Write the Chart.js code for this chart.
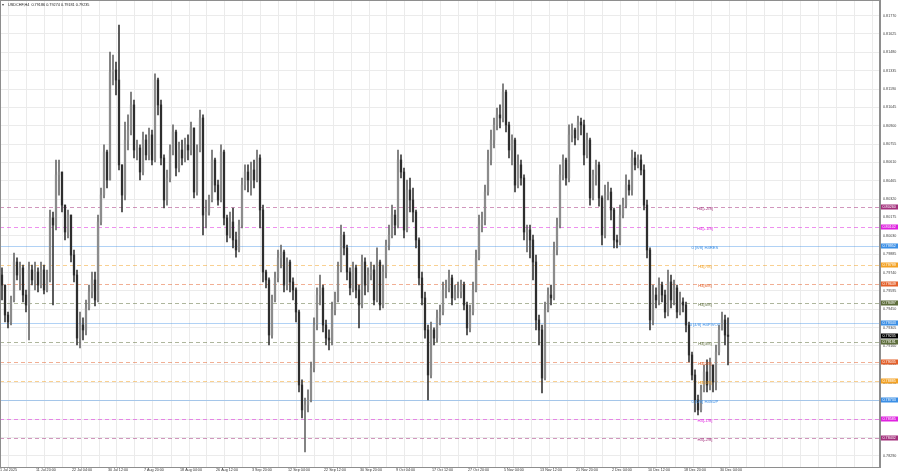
<!DOCTYPE html>
<html><head><meta charset="utf-8">
<script src="https://cdn.jsdelivr.net/npm/chart.js@4.4.1/dist/chart.umd.min.js"></script>
<style>html,body{margin:0;padding:0;background:#fff;overflow:hidden}#wrap{width:900px;height:474px;position:relative}</style>
</head><body><div id="wrap"><canvas id="c" width="900" height="474"></canvas></div>
<script>
// ---------------- DATA ----------------
const titleText = "USDCHF,H4  0.79186 0.79274 0.79181 0.79235";
const timeLabels = ["1 Jul 2025","11 Jul 20:00","22 Jul 04:00","30 Jul 12:00","7 Aug 20:00","18 Aug 04:00","26 Aug 12:00","3 Sep 20:00","12 Sep 04:00","22 Sep 12:00","30 Sep 20:00","9 Oct 04:00","17 Oct 12:00","27 Oct 20:00","5 Nov 04:00","13 Nov 12:00","21 Nov 20:00","2 Dec 04:00","10 Dec 12:00","18 Dec 20:00","30 Dec 04:00"];
const priceTicks = [0.78290,0.78435,0.78580,0.78725,0.78870,0.79015,0.79160,0.79305,0.79450,0.79595,0.79740,0.79885,0.80030,0.80175,0.80320,0.80465,0.80610,0.80755,0.80900,0.81045,0.81190,0.81335,0.81480,0.81625,0.81770];

const closes = [
0.79641,0.79404,0.79349,0.79523,0.79823,0.79720,0.79776,0.79562,0.79483,0.79760,
0.79681,0.79744,0.79641,0.79760,0.79602,0.79681,0.80171,0.80115,0.80511,0.80534,
0.80273,0.80060,0.80194,0.79878,0.79720,0.79222,0.79325,0.79286,0.79460,0.79586,
0.79681,0.79523,0.80139,0.80352,0.80692,0.80471,0.81324,0.81340,0.81261,0.80590,
0.80352,0.80787,0.80866,0.81064,0.80708,0.80724,0.80534,0.80787,0.80669,0.80827,
0.80629,0.81261,0.81064,0.80645,0.80313,0.80487,0.80708,0.80850,0.80566,0.80708,
0.80645,0.80748,0.80708,0.80882,0.80376,0.80708,0.80961,0.80194,0.80218,0.80313,
0.80629,0.80431,0.80313,0.80692,0.80171,0.80036,0.80139,0.79997,0.79918,0.80115,
0.80431,0.80534,0.80471,0.80550,0.80471,0.80645,0.80234,0.79744,0.79681,0.79246,
0.79523,0.79697,0.79855,0.79902,0.79641,0.79823,0.79665,0.79602,0.79428,0.78851,
0.78654,0.78693,0.78733,0.78985,0.79325,0.79562,0.79618,0.79325,0.79222,0.79207,
0.79444,0.79523,0.79760,0.80036,0.79934,0.79744,0.79618,0.79776,0.79602,0.79483,
0.79823,0.79641,0.79720,0.79760,0.79523,0.79823,0.79483,0.79744,0.79957,0.80036,
0.80194,0.80115,0.80629,0.80534,0.80076,0.80392,0.80313,0.80218,0.79997,0.79697,
0.79539,0.79286,0.78930,0.79286,0.79222,0.79381,0.79428,0.79602,0.79618,0.79697,
0.79539,0.79586,0.79586,0.79641,0.79483,0.79302,0.79428,0.79602,0.79855,0.80115,
0.80155,0.80376,0.80629,0.80787,0.80906,0.80985,0.80961,0.81166,0.80906,0.80708,
0.80787,0.80431,0.80590,0.80487,0.80060,0.80076,0.79997,0.79823,0.79365,0.79286,
0.78906,0.79444,0.79562,0.79539,0.79918,0.80115,0.80511,0.80629,0.80487,0.80827,
0.80866,0.80803,0.80929,0.80906,0.80669,0.80787,0.80329,0.80511,0.80590,0.80329,
0.80036,0.80352,0.80376,0.80234,0.79997,0.79981,0.80194,0.80273,0.80431,0.80392,
0.80645,0.80590,0.80629,0.80550,0.80273,0.79918,0.79365,0.79562,0.79523,0.79641,
0.79562,0.79428,0.79665,0.79523,0.79618,0.79428,0.79507,0.79483,0.79325,0.79088,
0.78930,0.78733,0.78654,0.78812,0.78954,0.78851,0.79009,0.78875,0.79112,0.79286,
0.79365,0.79246,0.79235];

const opens = [0.79720,
0.79641,0.79404,0.79349,0.79523,0.79823,0.79720,0.79776,0.79562,0.79483,0.79760,
0.79681,0.79744,0.79641,0.79760,0.79602,0.79681,0.80171,0.80115,0.80511,0.80534,
0.80273,0.80060,0.80194,0.79878,0.79720,0.79222,0.79325,0.79286,0.79460,0.79586,
0.79681,0.79523,0.80139,0.80352,0.80692,0.80471,0.81324,0.81340,0.81261,0.80590,
0.80352,0.80787,0.80866,0.81064,0.80708,0.80724,0.80534,0.80787,0.80669,0.80827,
0.80629,0.81261,0.81064,0.80645,0.80313,0.80487,0.80708,0.80850,0.80566,0.80708,
0.80645,0.80748,0.80708,0.80882,0.80376,0.80708,0.80961,0.80194,0.80218,0.80313,
0.80629,0.80431,0.80313,0.80692,0.80171,0.80036,0.80139,0.79997,0.79918,0.80115,
0.80431,0.80534,0.80471,0.80550,0.80471,0.80645,0.80234,0.79744,0.79681,0.79246,
0.79523,0.79697,0.79855,0.79902,0.79641,0.79823,0.79665,0.79602,0.79428,0.78851,
0.78654,0.78693,0.78733,0.78985,0.79325,0.79562,0.79618,0.79325,0.79222,0.79207,
0.79444,0.79523,0.79760,0.80036,0.79934,0.79744,0.79618,0.79776,0.79602,0.79483,
0.79823,0.79641,0.79720,0.79760,0.79523,0.79823,0.79483,0.79744,0.79957,0.80036,
0.80194,0.80115,0.80629,0.80534,0.80076,0.80392,0.80313,0.80218,0.79997,0.79697,
0.79539,0.79286,0.78930,0.79286,0.79222,0.79381,0.79428,0.79602,0.79618,0.79697,
0.79539,0.79586,0.79586,0.79641,0.79483,0.79302,0.79428,0.79602,0.79855,0.80115,
0.80155,0.80376,0.80629,0.80787,0.80906,0.80985,0.80961,0.81166,0.80906,0.80708,
0.80787,0.80431,0.80590,0.80487,0.80060,0.80076,0.79997,0.79823,0.79365,0.79286,
0.78906,0.79444,0.79562,0.79539,0.79918,0.80115,0.80511,0.80629,0.80487,0.80827,
0.80866,0.80803,0.80929,0.80906,0.80669,0.80787,0.80329,0.80511,0.80590,0.80329,
0.80036,0.80352,0.80376,0.80234,0.79997,0.79981,0.80194,0.80273,0.80431,0.80392,
0.80645,0.80590,0.80629,0.80550,0.80273,0.79918,0.79365,0.79562,0.79523,0.79641,
0.79562,0.79428,0.79665,0.79523,0.79618,0.79428,0.79507,0.79483,0.79325,0.79088,
0.78930,0.78733,0.78654,0.78812,0.78954,0.78851,0.79009,0.78875,0.79112,0.79286,
0.79365,0.79246];

const highs = [
0.79776,0.79602,0.79428,0.79554,0.79894,0.79855,0.79823,0.79799,0.79602,0.79823,
0.79799,0.79823,0.79776,0.79823,0.79799,0.79760,0.80234,0.80218,0.80629,0.80629,
0.80471,0.80273,0.80234,0.80194,0.79918,0.79760,0.79428,0.79381,0.79523,0.79641,
0.79744,0.79744,0.80194,0.80408,0.80748,0.80708,0.81482,0.81459,0.81403,0.81696,
0.80590,0.80929,0.80985,0.81166,0.81103,0.80787,0.80748,0.80850,0.80827,0.80882,
0.80866,0.81309,0.81277,0.81103,0.80669,0.80550,0.80748,0.80906,0.80866,0.80771,
0.80787,0.80803,0.80827,0.80929,0.80882,0.80748,0.81024,0.80985,0.80313,0.80352,
0.80708,0.80645,0.80471,0.80748,0.80708,0.80194,0.80218,0.80250,0.80060,0.80155,
0.80487,0.80590,0.80590,0.80613,0.80629,0.80708,0.80669,0.80273,0.79760,0.79697,
0.79562,0.79744,0.79918,0.79957,0.79918,0.79855,0.79839,0.79697,0.79618,0.79444,
0.78891,0.78748,0.78812,0.79033,0.79381,0.79618,0.79720,0.79641,0.79365,0.79286,
0.79507,0.79586,0.79823,0.80115,0.80060,0.79957,0.79776,0.79823,0.79799,0.79641,
0.79878,0.79855,0.79776,0.79823,0.79799,0.79934,0.79839,0.79799,0.79997,0.80115,
0.80273,0.80234,0.80708,0.80669,0.80566,0.80471,0.80487,0.80408,0.80234,0.80013,
0.79744,0.79586,0.79325,0.79349,0.79302,0.79444,0.79483,0.79665,0.79681,0.79760,
0.79720,0.79641,0.79665,0.79681,0.79665,0.79507,0.79483,0.79665,0.79918,0.80194,
0.80218,0.80431,0.80708,0.80866,0.80961,0.81040,0.81064,0.81230,0.81182,0.80929,
0.80827,0.80803,0.80669,0.80629,0.80511,0.80115,0.80115,0.80036,0.79878,0.79404,
0.79325,0.79507,0.79618,0.79641,0.79981,0.80171,0.80590,0.80669,0.80645,0.80906,
0.80914,0.80882,0.80977,0.80961,0.80945,0.80842,0.80803,0.80550,0.80629,0.80613,
0.80345,0.80431,0.80455,0.80408,0.80250,0.80036,0.80273,0.80329,0.80511,0.80471,
0.80708,0.80692,0.80669,0.80669,0.80590,0.80313,0.79934,0.79641,0.79618,0.79697,
0.79665,0.79602,0.79760,0.79720,0.79681,0.79641,0.79586,0.79539,0.79507,0.79349,
0.79112,0.78970,0.78772,0.78851,0.79009,0.79049,0.79064,0.79009,0.79167,0.79325,
0.79428,0.79404,0.79381];

const lows = [
0.79523,0.79349,0.79302,0.79325,0.79507,0.79681,0.79602,0.79507,0.79428,0.79207,
0.79641,0.79602,0.79586,0.79618,0.79570,0.79586,0.79665,0.79483,0.80076,0.80352,
0.80218,0.79997,0.80013,0.79823,0.79665,0.79167,0.79144,0.79207,0.79246,0.79444,
0.79539,0.79475,0.79507,0.80115,0.80329,0.80408,0.81040,0.81222,0.81143,0.80550,
0.80218,0.80313,0.80708,0.80827,0.80645,0.80629,0.80471,0.80511,0.80629,0.80629,
0.80590,0.80613,0.80985,0.80590,0.80250,0.80273,0.80455,0.80669,0.80503,0.80534,
0.80590,0.80613,0.80629,0.80669,0.80329,0.80352,0.80692,0.80036,0.80092,0.80194,
0.80297,0.80376,0.80273,0.80297,0.80115,0.79981,0.80013,0.79934,0.79862,0.79902,
0.80092,0.80392,0.80376,0.80352,0.80408,0.80455,0.80092,0.79665,0.79618,0.79167,
0.79222,0.79507,0.79665,0.79776,0.79586,0.79602,0.79586,0.79523,0.79349,0.78796,
0.78590,0.78322,0.78638,0.78717,0.78954,0.79286,0.79483,0.79270,0.79167,0.79128,
0.79167,0.79404,0.79507,0.79744,0.79878,0.79681,0.79562,0.79586,0.79539,0.79302,
0.79460,0.79562,0.79586,0.79681,0.79483,0.79507,0.79444,0.79460,0.79697,0.79918,
0.80013,0.80036,0.80092,0.80487,0.80013,0.80060,0.80218,0.80139,0.79934,0.79641,
0.79483,0.79222,0.78733,0.78906,0.79167,0.79191,0.79325,0.79404,0.79539,0.79586,
0.79483,0.79523,0.79539,0.79539,0.79444,0.79246,0.79270,0.79404,0.79586,0.79839,
0.80060,0.80115,0.80352,0.80590,0.80724,0.80866,0.80882,0.80929,0.80850,0.80645,
0.80590,0.80376,0.80408,0.80431,0.79997,0.79902,0.79855,0.79681,0.79286,0.79167,
0.78788,0.78891,0.79428,0.79483,0.79523,0.79878,0.80092,0.80471,0.80431,0.80455,
0.80771,0.80748,0.80787,0.80827,0.80590,0.80645,0.80273,0.80313,0.80431,0.80265,
0.79957,0.80013,0.80313,0.80155,0.79934,0.79934,0.79957,0.80171,0.80250,0.80352,
0.80352,0.80550,0.80566,0.80511,0.80234,0.79855,0.79286,0.79325,0.79460,0.79483,
0.79507,0.79381,0.79397,0.79460,0.79483,0.79381,0.79404,0.79428,0.79270,0.79033,
0.78891,0.78638,0.78614,0.78638,0.78796,0.78796,0.78812,0.78796,0.78812,0.79088,
0.79286,0.79167,0.79009];

const levelNames  = ["H4[+2/8]","H4[+1/8]","0 [8/8] H4RES","H4[7/8]","H4[6/8]","H4[5/8]","0 [4/8] H4PIVOT","H4[3/8]","H4[2/8]","H4[1/8]","0 [0/8] H4SUP","H4[-1/8]","H4[-2/8]"];
const levelValues = [0.80260,0.80102,0.79952,0.79799,0.79649,0.79497,0.79343,0.79191,0.79035,0.78885,0.78733,0.78585,0.78432];
const lastPrice = 0.79235;

// ---------------- STYLE ----------------
const levelStyle = [
  {c:'#a3307c', dash:true},{c:'#df22df', dash:true},{c:'#3b8fe6', dash:false},
  {c:'#f3a224', dash:true},{c:'#e4602a', dash:true},{c:'#5d6d3b', dash:true},
  {c:'#3b8fe6', dash:false},{c:'#5d6d3b', dash:true},{c:'#e4602a', dash:true},
  {c:'#f3a224', dash:true},{c:'#3b8fe6', dash:false},{c:'#df22df', dash:true},{c:'#a3307c', dash:true}
];
const FONT = "'Liberation Sans', Arial, sans-serif";
const PLOT_W = 880, CANDLE_PX = 3, FIRST_PX = 2;
const xMin = -FIRST_PX / CANDLE_PX, xMax = (PLOT_W - FIRST_PX) / CANDLE_PX;

const bull = closes.map((c,i)=> c >= opens[i]);
const wickData = closes.map((c,i)=>({x:i, y:[Math.min(lows[i],opens[i],c), Math.max(highs[i],opens[i],c)]}));
const bodyData = closes.map((c,i)=>({x:i, y:[opens[i], c]}));

const overlay = {
  id:'overlay',
  beforeDatasetsDraw(chart){
    const {ctx, chartArea:a, scales:{y}} = chart;
    ctx.save();
    ctx.lineWidth = 1;
    levelValues.forEach((v,i)=>{
      const py = Math.round(y.getPixelForValue(v)) + 0.5;
      ctx.globalAlpha = levelStyle[i].dash ? 0.5 : 0.4;
      ctx.strokeStyle = levelStyle[i].c;
      ctx.setLineDash(levelStyle[i].dash ? [4,3] : []);
      ctx.beginPath(); ctx.moveTo(a.left, py); ctx.lineTo(a.right, py); ctx.stroke();
    });
    ctx.restore();
  },
  afterDatasetsDraw(chart){
    const {ctx, scales:{y}} = chart;
    ctx.save();
    ctx.font = "4.2px " + FONT;
    ctx.textAlign = 'center'; ctx.textBaseline = 'middle';
    levelValues.forEach((v,i)=>{
      const py = y.getPixelForValue(v);
      ctx.fillStyle = levelStyle[i].c;
      ctx.fillText(levelNames[i], 705, py + 2);
    });
    ctx.restore();
  },
  afterDraw(chart){
    const {ctx, chartArea:a, scales:{y}} = chart;
    ctx.save();
    ctx.strokeStyle = '#8e8e8e'; ctx.lineWidth = 1;
    ctx.strokeRect(a.left + 0.5, a.top + 0.5, a.right - a.left - 1, a.bottom - a.top);
    ctx.font = "3.7px " + FONT; ctx.textBaseline = 'middle'; ctx.textAlign = 'left';
    const tag = (v, col) => {
      const py = Math.round(y.getPixelForValue(v));
      ctx.fillStyle = col; ctx.fillRect(a.right + 1, py - 2.5, 17, 5);
      ctx.fillStyle = '#ffffff'; ctx.fillText(v.toFixed(5), a.right + 2.5, py + 0.2);
    };
    levelValues.forEach((v,i)=> tag(v, levelStyle[i].c));
    tag(lastPrice, '#000000');
    ctx.fillStyle = '#444'; ctx.font = "3.8px " + FONT; ctx.textBaseline = 'middle';
    ctx.fillText('\u25BE', 2, 4.5);
    ctx.fillStyle = '#222';
    ctx.fillText(titleText, 8, 4.5);
    ctx.restore();
  }
};

new Chart(document.getElementById('c'), {
  type:'bar',
  data:{datasets:[
    {data:wickData, backgroundColor:bull.map(b=>b?'#6a6a6a':'#3a3a3a'), barThickness:1, grouped:false, borderWidth:0, order:2},
    {data:bodyData, backgroundColor:bull.map(b=>b?'#8c8c8c':'#2e2e2e'), barThickness:1.6, grouped:false, borderWidth:0, order:1}
  ]},
  options:{
    responsive:false, animation:false, devicePixelRatio:1,
    layout:{padding:0},
    events:[],
    plugins:{legend:{display:false}, tooltip:{enabled:false}},
    scales:{
      x:{type:'linear', min:xMin, max:xMax, offset:false,
        afterBuildTicks(s){ const t=[]; for(let k=0;k*6*CANDLE_PX<PLOT_W;k++){ t.push({value: k*6 + xMin}); } s.ticks=t; },
        afterFit(s){ s.height = 7; s.paddingLeft = 0; s.paddingRight = 0; },
        grid:{color:'#ebebeb', drawTicks:false, lineWidth:1},
        border:{display:true, color:'#8e8e8e'},
        ticks:{autoSkip:false, maxRotation:0, minRotation:0, align:'start', padding:1, color:'#333',
          font:{size:3.7, family:FONT},
          callback:(v,i)=> (i%2===0 && timeLabels[i/2]) ? timeLabels[i/2] : ''}
      },
      y:{position:'right', min:0.818933 - 467*0.00007902, max:0.818933,
        afterBuildTicks(s){ s.ticks = priceTicks.map(v=>({value:v})); },
        afterFit(s){ s.width = 20; s.paddingTop = 0; s.paddingBottom = 0; },
        grid:{color:'#ebebeb', drawTicks:false, lineWidth:1},
        border:{display:true, color:'#8e8e8e'},
        ticks:{padding:3, color:'#444', font:{size:3.7, family:FONT},
          callback:(v)=> Number(v).toFixed(5)}
      }
    }
  },
  plugins:[overlay]
});
</script>
</body></html>
